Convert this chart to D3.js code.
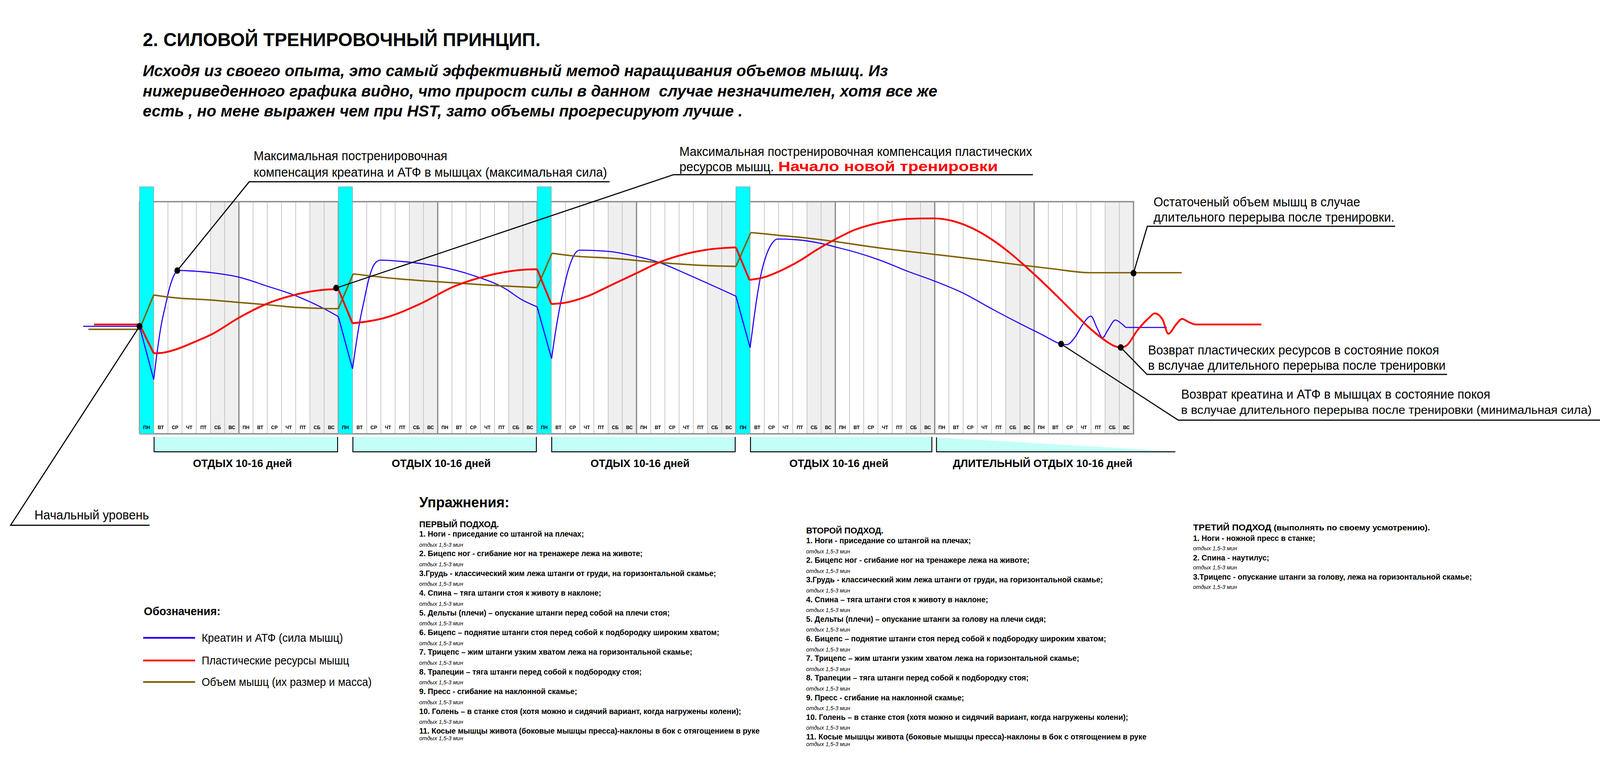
<!DOCTYPE html>
<html>
<head>
<meta charset="utf-8">
<script src="https://cdn.jsdelivr.net/npm/d3@7"></script>
<style>
  html, body { margin: 0; padding: 0; background: #fff; overflow: hidden; }
  svg { display: block; }
  text { font-family: "Liberation Sans", Arial, sans-serif; white-space: pre; }
</style>
</head>
<body>
<div id="chart"></div>
<script>
var dayNames     = ["ПН", "ВТ", "СР", "ЧТ", "ПТ", "СБ", "ВС"];
var dayCount     = 70;
var trainingDays = [0, 14, 28, 42];

var restFrom     = [1, 15, 29, 43, 56.1];
var restTo       = [14, 28, 42, 55.85, 73];
var restLabelDay = [7.25, 21.25, 35.25, 49.25, 63.6];
var restLabels   = ["ОТДЫХ 10-16 дней", "ОТДЫХ 10-16 дней", "ОТДЫХ 10-16 дней",
                    "ОТДЫХ 10-16 дней", "ДЛИТЕЛЬНЫЙ ОТДЫХ 10-16 дней"];

// [day, level] - level 0 = bottom of the grid, 100 = top
var creatine = [
  [-3.97, 46.3], [0, 46.3], [1, 23.4], [1.29, 37.4], [1.53, 46.9], [1.78, 54.0], [2.15, 63.6],
  [2.44, 68.4], [2.69, 70.4], [3.5, 70.2], [5.1, 69.4], [7, 67.5], [9, 63.6], [10.95, 59.6],
  [12.9, 54.2], [14, 50.5],
  [15, 28.0], [15.24, 38.1], [15.49, 47.7], [15.81, 57.2], [16.15, 66.7], [16.54, 73.1],
  [16.96, 74.8], [18.55, 74.2], [21, 72.2], [23.4, 68.4], [25.9, 62.0], [26.8, 58.2], [28, 54.7],
  [29.02, 32.4], [29.28, 43.3], [29.53, 52.3], [29.88, 62.8], [30.22, 71.1], [30.65, 77.5],
  [30.99, 79.1], [33, 78.6], [35, 76.4], [36.7, 73.6], [38.4, 69.2], [40.2, 64.3], [42, 59.3],
  [43, 37.1], [43.26, 49.3], [43.51, 59.8], [43.77, 68.8], [44.15, 77.1], [44.54, 82.0],
  [44.92, 83.9], [46.45, 83.5], [48, 82.0], [49, 80.5], [50.6, 77.9], [52.1, 74.9], [54.1, 70.0],
  [55.9, 66.0], [58, 60.6], [60, 53.9], [61.8, 48.1], [63.6, 42.6], [64.9, 38.7], [65.3, 38.4],
  [65.9, 41.8], [66.42, 47.1], [67, 50.7], [67.43, 45.6], [67.82, 41.4], [68.2, 44.8],
  [68.72, 49.0], [69.23, 47.1], [69.5, 45.8], [72.35, 45.8]
];
var creatineCorners = [0, 1, 14, 15, 28, 29.02, 42, 43];

var plastic = [
  [-3.2, 47.1], [0, 47.1], [1, 34.7], [1.6, 34.9], [2.63, 36.5], [4, 39.9], [5.1, 42.9],
  [7, 50.0], [9, 56.1], [10.95, 59.9], [12.9, 62.0], [14, 62.3],
  [15, 47.6], [17.3, 50.0], [19.8, 56.1], [22.2, 63.6], [24.7, 68.4], [27.1, 70.7], [28, 70.9],
  [29, 55.9], [29.9, 56.4], [31.6, 59.4], [33.3, 64.3], [35, 69.2], [36.7, 74.1], [38.4, 77.4],
  [40.2, 79.5], [42, 80.3],
  [42.95, 66.3], [43.9, 67.3], [45.2, 70.4], [46.45, 74.4], [47.7, 79.3], [49, 83.8], [50.3, 87.7],
  [51.6, 90.2], [52.9, 91.8], [54.1, 92.6], [55.9, 92.8], [57.2, 91.8], [58.7, 88.4], [60, 83.8],
  [61.3, 77.9], [62.6, 71.0], [63.9, 63.6], [64.9, 57.6], [65.9, 51.5], [66.9, 45.6], [68, 40.2],
  [68.7, 37.7], [69.1, 37.2], [69.5, 38.0], [70.3, 44.8], [71.1, 50.0], [71.5, 51.9], [72.04, 49.3],
  [72.45, 43.1], [73, 47.1], [73.42, 49.5], [73.9, 48.1], [74.37, 47.1], [79, 47.1]
];
var plasticCorners = [0, 1, 14, 15, 28, 29, 42, 42.95];

var volume = [
  [-3.6, 45.0], [0, 45.0], [1, 59.8], [2.5, 58.6], [5.1, 57.6], [7, 56.6], [9, 55.6], [10.95, 54.5],
  [12.9, 54.0], [14, 53.9],
  [15.05, 68.9], [17.3, 67.3], [21, 65.5], [24.7, 64.0], [28, 63.0],
  [29.05, 77.8], [30.6, 76.6], [33.3, 75.6], [36.7, 73.7], [40.2, 72.4], [42, 72.1],
  [43.05, 86.7], [43.9, 86.2], [45, 85.5], [46.45, 84.7], [49, 82.8], [51.6, 80.5], [54.1, 78.6],
  [56.7, 76.8], [59.3, 74.9], [61.8, 72.9], [64.4, 71.0], [66.9, 69.4], [73.4, 69.4]
];
var volumeCorners = [0, 1, 14, 15.05, 28, 29.05, 42, 43.05];

var legendLabels = ["Креатин и АТФ (сила мышц)", "Пластические ресурсы мышц", "Объем мышц (их размер и масса)"];
var seriesColors = ["#2000ff", "#ff0000", "#806000"];

var title    = "2. СИЛОВОЙ ТРЕНИРОВОЧНЫЙ ПРИНЦИП.";
var subtitle = ["Исходя из своего опыта, это самый эффективный метод наращивания объемов мышц. Из",
                "нижериведенного графика видно, что прирост силы в данном  случае незначителен, хотя все же",
                "есть , но мене выражен чем при HST, зато объемы прогресируют лучше ."];

var restNote = "отдых 1,5-3 мин";
var set1 = [
  "1. Ноги - приседание со штангой на плечах;",
  "2. Бицепс ног - сгибание ног на тренажере лежа на животе;",
  "3.Грудь - классический жим лежа штанги от груди, на горизонтальной скамье;",
  "4. Спина – тяга штанги стоя к животу в наклоне;",
  "5. Дельты (плечи) – опускание штанги перед собой на плечи стоя;",
  "6. Бицепс – поднятие штанги стоя перед собой к подбородку широким хватом;",
  "7. Трицепс – жим штанги узким хватом лежа на горизонтальной скамье;",
  "8. Трапеции – тяга штанги перед собой к подбородку стоя;",
  "9. Пресс - сгибание на наклонной скамье;",
  "10. Голень – в станке стоя (хотя можно и сидячий вариант, когда нагружены колени);",
  "11. Косые мышцы живота (боковые мышцы пресса)-наклоны в бок с отягощением в руке"
];
var set2 = set1.slice();
set2[4] = "5. Дельты (плечи) – опускание штанги за голову на плечи сидя;";
var set3 = [
  "1. Ноги - ножной пресс в станке;",
  "2. Спина - наутилус;",
  "3.Трицепс - опускание штанги за голову, лежа на горизонтальной скамье;"
];

// layout is drawn on a 4404 x 2006 sheet; vertical positions are stretched
// to the real viewport proportions so the sheet fills the window
var W = 4404, H = 2006;
var vw = window.innerWidth || W, vh = window.innerHeight || H;
var VH = W * vh / vw;
var ky = VH / H;
function Y(v) { return v * ky; }

var svg = d3.select("#chart").append("svg")
  .attr("width", vw)
  .attr("height", vh)
  .attr("viewBox", "0 0 " + W + " " + VH)
  .attr("preserveAspectRatio", "xMidYMin meet");
svg.append("rect").attr("width", W).attr("height", VH).attr("fill", "#fff");

var x = d3.scaleLinear().domain([0, dayCount]).range([384, 3120]);
var y = d3.scaleLinear().domain([0, 100]).range([Y(1110), Y(516)]);
var colW = x(1) - x(0);

function label(g, px, py, str, size, opts)
{
  opts = opts || {};
  var t = g.append("text")
    .attr("x", px)
    .attr("y", Y(py))
    .attr("font-size", size)
    .attr("font-weight", opts.bold ? "bold" : null)
    .attr("font-style", opts.italic ? "italic" : null)
    .attr("text-anchor", opts.anchor || null)
    .attr("fill", opts.fill || "#000")
    .text(str);
  if (opts.width)
    t.attr("textLength", opts.width).attr("lengthAdjust", "spacingAndGlyphs");
  return t;
}

// header
label(svg, 393, 118, title, 51, {bold: true});
var subWidths = [2051, 2187, 1651];
subtitle.forEach(function (s, i) {
  label(svg, 393, 195 + i * 51.5, s, 44, {bold: true, italic: true, width: subWidths[i]});
});

// grid
var grid = svg.append("g").attr("class", "grid");
var cols = d3.range(dayCount);

grid.selectAll("rect.weekend")
  .data(cols.filter(function (d) { return d % 7 >= 5; }))
  .enter()
  .append("rect")
  .attr("x", function (d) { return x(d); })
  .attr("y", y(100))
  .attr("width", colW)
  .attr("height", y(0) - y(100))
  .attr("fill", "#efefef");

grid.selectAll("line.day")
  .data(d3.range(1, dayCount).filter(function (d) { return d % 7 != 0; }))
  .enter()
  .append("line")
  .attr("x1", function (d) { return x(d); })
  .attr("x2", function (d) { return x(d); })
  .attr("y1", y(100))
  .attr("y2", y(0))
  .attr("stroke", "#b4b4b4")
  .attr("stroke-width", 1.5);

grid.selectAll("line.week")
  .data(d3.range(0, dayCount + 1, 7))
  .enter()
  .append("line")
  .attr("x1", function (d) { return x(d); })
  .attr("x2", function (d) { return x(d); })
  .attr("y1", y(100))
  .attr("y2", y(0))
  .attr("stroke", "#8c8c8c")
  .attr("stroke-width", 3.5);

[100, 0].forEach(function (v) {
  grid.append("line")
    .attr("x1", x(0)).attr("x2", x(dayCount) + 2)
    .attr("y1", y(v)).attr("y2", y(v))
    .attr("stroke", "#8c8c8c")
    .attr("stroke-width", 4);
});

grid.selectAll("rect.train")
  .data(trainingDays)
  .enter()
  .append("rect")
  .attr("x", function (d) { return x(d); })
  .attr("y", Y(478))
  .attr("width", colW)
  .attr("height", y(0) - Y(478))
  .attr("fill", "#00ffff")
  .attr("stroke", "#a0a0a0")
  .attr("stroke-width", 1.5);

grid.selectAll("text.day")
  .data(cols)
  .enter()
  .append("text")
  .attr("x", function (d) { return x(d + 0.5); })
  .attr("y", Y(1098))
  .attr("text-anchor", "middle")
  .attr("font-size", 13)
  .attr("font-weight", "bold")
  .text(function (d) { return dayNames[d % 7]; });

// rest periods
var rest = svg.append("g").attr("class", "rest");
var rTop = Y(1118), rBot = Y(1156);
restFrom.forEach(function (from, i) {
  var x0 = x(from) + 1, x1 = x(restTo[i]) - 2;
  if (i < restFrom.length - 1) {
    rest.append("rect")
      .attr("x", x0).attr("y", rTop)
      .attr("width", x1 - x0).attr("height", rBot - rTop)
      .attr("fill", "#c3fff7");
    rest.append("path")
      .attr("d", "M" + x0 + "," + rTop + "V" + rBot + "H" + x1 + "V" + rTop)
      .attr("fill", "none").attr("stroke", "#000").attr("stroke-width", 2.5);
  } else {
    rest.append("path")
      .attr("d", "M" + x0 + "," + (rTop + 1) + "L" + x1 + "," + (rBot - 1) + "H" + x0 + "Z")
      .attr("fill", "#c3fff7");
    rest.append("path")
      .attr("d", "M" + x0 + "," + (rTop + 1) + "V" + rBot + "H" + x1)
      .attr("fill", "none").attr("stroke", "#000").attr("stroke-width", 2.5);
  }
  label(rest, x(restLabelDay[i]), 1195, restLabels[i], 29.5, {bold: true, anchor: "middle"});
});

// curves
function runs(points, corners)
{
  var out = [], cur = [];
  points.forEach(function (p) {
    cur.push(p);
    if (corners.indexOf(p[0]) >= 0 && cur.length > 1) {
      out.push(cur);
      cur = [p];
    }
  });
  if (cur.length > 1)
    out.push(cur);
  return out;
}

var line = d3.line()
  .x(function (d) { return x(d[0]); })
  .y(function (d) { return y(d[1]); })
  .curve(d3.curveMonotoneX);

var series = [
  {pts: creatine, corners: creatineCorners, color: seriesColors[0], w: 3},
  {pts: volume,   corners: volumeCorners,   color: seriesColors[2], w: 4},
  {pts: plastic,  corners: plasticCorners,  color: seriesColors[1], w: 5}
];

series.forEach(function (s) {
  svg.append("path")
    .attr("d", runs(s.pts, s.corners).map(line).join(""))
    .attr("fill", "none")
    .attr("stroke", s.color)
    .attr("stroke-width", s.w)
    .attr("stroke-linejoin", "round");
});

// annotations
var notes = [
  {dot: [0, 46.3],      path: [[29, 1344], [412, 1344]]},
  {dot: [2.66, 70.3],   path: [[686, 465], [1678, 465]]},
  {dot: [13.85, 62.8],  path: [[1854, 447], [2843, 447]]},
  {dot: [70, 69.2],     path: [[3158, 579], [3840, 579]]},
  {dot: [69.1, 37.2],   path: [[3157, 958], [3983, 958]]},
  {dot: [64.9, 38.7],   path: [[3243, 1075], [4404, 1075]]}
];

var ann = svg.append("g").attr("class", "notes");
notes.forEach(function (n) {
  var pts = [[x(n.dot[0]), y(n.dot[1])]].concat(n.path.map(function (p) { return [p[0], Y(p[1])]; }));
  ann.append("path")
    .attr("d", d3.line()(pts))
    .attr("fill", "none")
    .attr("stroke", "#000")
    .attr("stroke-width", 3);
});
ann.selectAll("ellipse")
  .data(notes)
  .enter()
  .append("ellipse")
  .attr("cx", function (n) { return x(n.dot[0]); })
  .attr("cy", function (n) { return y(n.dot[1]); })
  .attr("rx", 8)
  .attr("ry", 9)
  .attr("fill", "#000");

label(ann, 95, 1329, "Начальный уровень", 36, {width: 315});
label(ann, 698, 410, "Максимальная постренировочная", 36, {width: 533});
label(ann, 698, 452, "компенсация креатина и АТФ в мышцах (максимальная сила)", 36, {width: 973});
label(ann, 1870, 399, "Максимальная постренировочная компенсация пластических", 36, {width: 971});
label(ann, 1870, 438, "ресурсов мышц.", 36, {width: 260});
label(ann, 2142, 438, "Начало новой тренировки", 38, {bold: true, fill: "#ff0000", width: 605});
label(ann, 3175, 528, "Остаточеный объем мышц в случае", 36, {width: 569});
label(ann, 3175, 567, "длительного перерыва после тренировки.", 36, {width: 663});
label(ann, 3160, 907, "Возврат пластических ресурсов в состояние покоя", 36, {width: 801});
label(ann, 3160, 946, "в вслучае длительного перерыва после тренировки", 36, {width: 819});
label(ann, 3251, 1020, "Возврат креатина и АТФ в мышцах в состояние покоя", 36, {width: 851});
label(ann, 3251, 1059, "в вслучае длительного перерыва после тренировки (минимальная сила)", 32, {width: 1130});

// legend
var legend = svg.append("g").attr("class", "legend");
label(legend, 396, 1574, "Обозначения:", 31, {bold: true, width: 211});
var legendWidths = [389, 406, 468];
[0, 1, 2].forEach(function (i) {
  var ly = [1632, 1690, 1745][i];
  legend.append("line")
    .attr("x1", 394).attr("x2", 537)
    .attr("y1", Y(ly)).attr("y2", Y(ly))
    .attr("stroke", seriesColors[i])
    .attr("stroke-width", 5);
  label(legend, 555, ly + 10, legendLabels[i], 31, {width: legendWidths[i]});
});

// exercises
function exerciseColumn(px, firstY, pitch, restGap, items)
{
  var g = svg.append("g").attr("class", "set");
  items.forEach(function (s, i) {
    var iy = firstY + i * pitch;
    label(g, px, iy, s, 21, {bold: true});
    label(g, px, iy + (i == items.length - 1 && items.length > 3 ? 17 : restGap), restNote, 15.5, {italic: true});
  });
  return g;
}

label(svg, 1154, 1298, "Упражнения:", 39, {bold: true});
label(svg, 1154, 1349, "ПЕРВЫЙ ПОДХОД.", 23.5, {bold: true});
exerciseColumn(1154, 1373, 50.4, 25.5, set1);

label(svg, 2219, 1365, "ВТОРОЙ ПОДХОД.", 23.5, {bold: true});
exerciseColumn(2219, 1390, 50.2, 25.5, set2);

var h3 = label(svg, 3284, 1357, "ТРЕТИЙ ПОДХОД", 23.5, {bold: true, width: 652});
h3.append("tspan").attr("font-size", 22).text(" (выполнять по своему усмотрению).");
exerciseColumn(3284, 1384, 49.5, 23.5, set3);
</script>
</body>
</html>
